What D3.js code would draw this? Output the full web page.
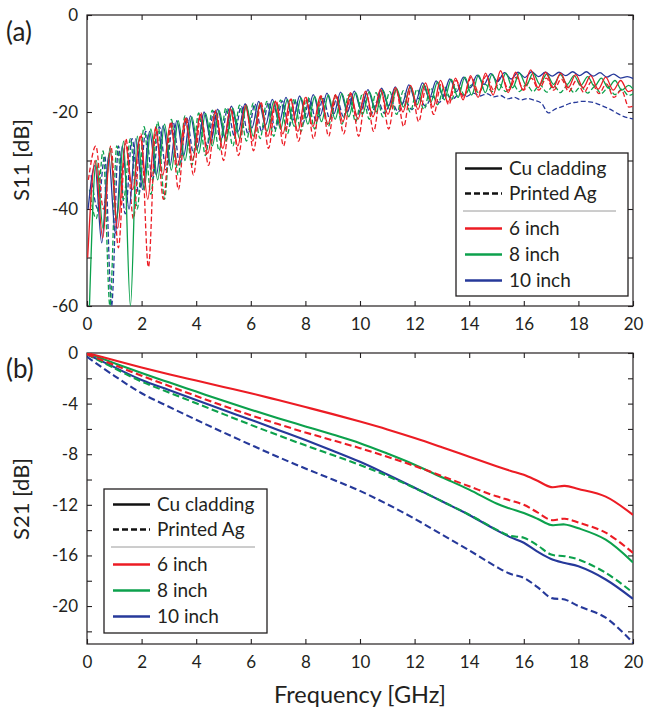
<!DOCTYPE html>
<html>
<head>
<meta charset="utf-8">
<script src="https://cdn.jsdelivr.net/npm/d3@7"></script>
<style>
  body { margin: 0; background: #fff; }
  svg text { font-family: Lato, "Open Sans", sans-serif; fill: #231f20; }
</style>
</head>
<body>
<svg id="chart" width="646" height="709"></svg>
<script>
// ---- data -------------------------------------------------------------
const lengths = ["6 inch", "8 inch", "10 inch"];
const materials = ["Cu cladding", "Printed Ag"];
const colors = ["#ec1c24", "#0ca14c", "#26399a"];

const freqTicks = [0, 2, 4, 6, 8, 10, 12, 14, 16, 18, 20];
const s11Ticks = [0, -10, -20, -30, -40, -50, -60];
const s11Labels = [0, -20, -40, -60];
const s21Ticks = [0, -2, -4, -6, -8, -10, -12, -14, -16, -18, -20, -22];
const s21Labels = [0, -4, -8, -12, -16, -20];

// S11: dB values at alternating peak / dip points, uniform frequency grid
// (start GHz, step GHz) per trace
const s11Grid6Cu = [0.025, 0.275];
const s11Grid6Ag = [0.05, 0.275];
const s11Grid8Cu = [0.09, 0.25];
const s11Grid8Ag = [0.09, 0.25];
const s11Grid10Cu = [0.04, 0.25];
const s11Grid10Ag = [0.15, 0.25];

const s11Cu6 = [-50, -30, -46, -28, -44, -26.5, -36, -25, -38, -23.5, -33, -22.5, -31, -21.5, -30, -20.5,
  -28.5, -20, -27.5, -19.3, -27, -18.7, -26, -18.2, -25, -17.8, -24.5, -17.4, -24, -17, -23, -16.7,
  -22.5, -16.4, -22, -16, -21.5, -15.7, -21, -15.3, -20.5, -15, -20, -14.5, -19.5, -14, -19, -13.5,
  -18, -13, -17.5, -12.5, -17, -12, -16.5, -11.5, -16, -11.8, -15.5, -11.3, -15, -11.8, -15, -12,
  -15, -12.3, -15, -12.5, -15.3, -12.8, -15.5, -13.5, -15.8, -15];
const s11Ag6 = [-34, -27, -40, -27, -48, -25.5, -42, -24.5, -52, -23, -38, -22, -36, -21, -33, -20.2,
  -31, -19.6, -30, -19, -29, -18.5, -28, -18, -27.5, -17.6, -27, -17.3, -26, -17, -25.5, -16.7,
  -25, -16.4, -24.5, -16.2, -25, -16, -24, -15.7, -23.5, -15.4, -23, -15, -22, -14.7, -20.5, -14.2,
  -18.5, -13.5, -17, -12.8, -16, -12.5, -15.5, -12.5, -15.5, -12.8, -15.5, -13, -15.5, -13, -15.5, -13.2,
  -15.8, -13.5, -16, -13.8, -16.2, -14.2, -17, -15.5, -19, -18.5];
const s11Cu8 = [-60, -30, -44, -27.5, -42, -26, -60, -25, -36, -23.5, -34, -22.5, -32, -21.8, -30, -21,
  -28.5, -20.3, -27, -19.7, -26, -19.2, -25.5, -18.7, -25, -18.2, -24, -17.8, -23.5, -17.4, -23, -17.1,
  -22.5, -16.8, -22, -16.5, -21.5, -16.2, -21, -16, -20.5, -15.8, -20, -15.5, -19.5, -15.2, -19, -14.8,
  -18.5, -14.3, -18, -13.8, -17.5, -13.3, -17, -12.8, -16.5, -12.4, -16, -12.2, -15.5, -12, -15, -12,
  -14.5, -12, -14.3, -12.2, -14.3, -12.3, -14.3, -12.5, -14.5, -12.7, -14.7, -13, -15, -13.5, -15.5, -14.5, -16];
const s11Ag8 = [-36, -42, -28, -60, -27, -38, -25.5, -40, -23, -37, -22, -38, -21.5, -33, -20.8, -31,
  -20.2, -29, -19.6, -28, -19.1, -27, -18.6, -26, -18.2, -25.5, -17.8, -25, -17.5, -24.5, -17.2, -24,
  -17, -23.5, -16.8, -23, -16.6, -22.5, -16.4, -22, -16.2, -21.5, -16, -21, -15.8, -20.5, -15.6, -20,
  -15.3, -19.5, -15, -18.5, -14.8, -17.5, -14.6, -16.5, -14.4, -16, -14.3, -15.8, -14.2, -15.8, -14.2, -15.8,
  -14.3, -15.8, -14.4, -15.9, -14.5, -16, -14.6, -16, -14.7, -16.1, -14.8, -16.2, -15, -16.4, -15.3, -16.6, -16];
const s11Cu10 = [-40, -31, -47, -29, -45, -27, -40, -25.5, -36, -24, -33, -22.8, -31, -21.8, -29, -20.8,
  -27.5, -20, -26, -19.4, -25, -18.8, -24, -18.3, -23.3, -17.8, -22.7, -17.4, -22.2, -17, -21.7, -16.7,
  -21.2, -16.4, -20.8, -16.1, -20.4, -15.9, -20, -15.7, -19.6, -15.4, -19.2, -15.1, -18.8, -14.8, -18.3, -14.4,
  -17.8, -14, -17.2, -13.6, -16.6, -13.2, -15.8, -12.8, -15, -12.4, -14.3, -12.1, -13.7, -11.9, -13.2, -11.8,
  -12.9, -11.7, -12.7, -11.8, -12.6, -11.8, -12.5, -11.7, -12.5, -11.7, -12.6, -11.9, -12.8, -12.2, -13, -12.7, -13.2];
const s11Ag10 = [-33, -40, -29, -60, -27, -41, -25.5, -37, -24, -34, -23, -32, -22, -31, -21.2, -28.5,
  -20.5, -27, -19.8, -26, -19.3, -25, -18.8, -24.5, -18.3, -24, -18, -23.5, -17.7, -23, -17.5, -22.5,
  -17.3, -22, -17.2, -21.5, -17.2, -21, -17.3, -20.8, -17.5, -20.5, -17.7, -20.3, -17.8, -20, -17.6, -19.5,
  -17.2, -18.8, -16.8, -18, -16.4, -17.3, -16.2, -16.8, -16.1, -16.7, -16.2, -16.9, -16.6, -17.3, -17, -17.5,
  -17.2, -17.6, -18.2, -20.2, -19.4, -18.9, -18.3, -18, -17.8, -17.9, -18.2, -18.8, -19.4, -20.2, -20.9, -21.3, -21.5];

// S21 (dB)
const s21Freq = [0, 1, 2, 3, 4, 5, 6, 7, 8, 9, 10, 11, 12, 13, 14, 15, 15.5, 16, 16.5, 17, 17.5, 18, 19, 20];
const s21Cu6 = [0, -0.58, -1.15, -1.68, -2.18, -2.68, -3.18, -3.72, -4.27, -4.83, -5.42, -6.04, -6.72, -7.45, -8.2, -8.95, -9.3, -9.62, -10.1, -10.6, -10.5, -10.75, -11.35, -12.8];
const s21Ag6 = [-0.1, -0.95, -1.8, -2.6, -3.4, -4.18, -4.92, -5.62, -6.28, -6.9, -7.52, -8.2, -8.93, -9.72, -10.54, -11.33, -11.65, -12.0, -12.6, -13.2, -13.1, -13.4, -14.2, -15.8];
const s21Cu8 = [0, -0.8, -1.58, -2.32, -3.05, -3.78, -4.48, -5.15, -5.8, -6.45, -7.13, -7.95, -8.83, -9.82, -10.8, -11.9, -12.3, -12.65, -13.1, -13.6, -13.55, -13.85, -14.75, -16.55];
const s21Ag8 = [-0.1, -1.2, -2.26, -3.12, -3.97, -4.83, -5.68, -6.5, -7.3, -8.07, -8.85, -9.72, -10.67, -11.72, -12.78, -13.96, -14.45, -14.6, -15.2, -15.93, -16.06, -16.32, -17.37, -18.95];
const s21Cu10 = [-0.1, -1.12, -2.13, -2.92, -3.71, -4.5, -5.28, -6.08, -6.88, -7.72, -8.6, -9.6, -10.65, -11.72, -12.8, -14.0, -14.55, -15.0, -15.7, -16.28, -16.6, -16.86, -17.9, -19.43];
const s21Ag10 = [-0.3, -1.8, -3.18, -4.25, -5.28, -6.28, -7.26, -8.22, -9.13, -10.0, -10.9, -11.95, -13.1, -14.35, -15.6, -16.9, -17.45, -17.77, -18.5, -19.35, -19.48, -20.0, -20.92, -22.9];

// ---- layout -----------------------------------------------------------
const svg = d3.select("#chart");
const X0 = 87, X1 = 633;
const x = d3.scaleLinear().domain([0, 20]).range([X0, X1]);
const yA = d3.scaleLinear().domain([-60, 0]).range([306, 15]);
const yB = d3.scaleLinear().domain([-23, 0]).range([644, 353]);

const ink = "#231f20";

function gridPoints(grid, vals) {
  return vals.map((v, i) => [grid[0] + grid[1] * i, v]);
}
function pairPoints(fs, vals) {
  return vals.map((v, i) => [fs[i], v]);
}

function frame(y, yTicks, yLabels, clipId) {
  const top = y.range()[1], bottom = y.range()[0];
  const fmt = (d) => String(d);

  svg.append("clipPath").attr("id", clipId)
    .append("rect").attr("x", X0).attr("y", top).attr("width", X1 - X0).attr("height", bottom - top);

  const axes = [
    svg.append("g").attr("transform", `translate(0,${bottom})`)
      .call(d3.axisBottom(x).tickValues(freqTicks).tickSize(-5).tickSizeOuter(0).tickPadding(12).tickFormat(fmt)),
    svg.append("g").attr("transform", `translate(0,${top})`)
      .call(d3.axisTop(x).tickValues(freqTicks).tickSize(-5).tickSizeOuter(0).tickFormat("")),
    svg.append("g").attr("transform", `translate(${X0},0)`)
      .call(d3.axisLeft(y).tickValues(yTicks).tickSize(-5).tickSizeOuter(0).tickPadding(9)
        .tickFormat((d) => (yLabels.includes(d) ? fmt(d) : ""))),
    svg.append("g").attr("transform", `translate(${X1},0)`)
      .call(d3.axisRight(y).tickValues(yTicks).tickSize(-5).tickSizeOuter(0).tickFormat(""))
  ];
  axes.forEach((g) => {
    g.attr("font-family", null).attr("font-size", null);
    g.select(".domain").remove();
    g.selectAll(".tick line").attr("stroke", ink).attr("stroke-width", 1.1);
    g.selectAll(".tick text").style("font-size", "17px").attr("fill", ink);
  });

  svg.append("rect")
    .attr("x", X0).attr("y", top).attr("width", X1 - X0).attr("height", bottom - top)
    .attr("fill", "none").attr("stroke", ink).attr("stroke-width", 1.2);
}

function trace(y, pts, color, dashed, width, clipId, curve) {
  const line = d3.line().x((d) => x(d[0])).y((d) => y(d[1])).curve(curve);
  svg.append("path")
    .attr("clip-path", `url(#${clipId})`)
    .attr("d", line(pts))
    .attr("fill", "none")
    .attr("stroke", color)
    .attr("stroke-width", width)
    .attr("stroke-linejoin", "round")
    .attr("stroke-dasharray", dashed ? (width > 1.5 ? "7,3.5" : "5,2.5") : null);
}

function legend(bx, by, bw, bh) {
  const g = svg.append("g").attr("transform", `translate(${bx},${by})`);
  g.append("rect").attr("width", bw).attr("height", bh)
    .attr("fill", "#fff").attr("stroke", ink).attr("stroke-width", 1.3);
  const rows = [
    { label: materials[0], color: "#111", dash: null, y: 15.5 },
    { label: materials[1], color: "#111", dash: "6,3", y: 40.5 },
    { label: lengths[0], color: colors[0], dash: null, y: 75.5 },
    { label: lengths[1], color: colors[1], dash: null, y: 101.5 },
    { label: lengths[2], color: colors[2], dash: null, y: 127.5 }
  ];
  g.append("line").attr("x1", 7).attr("x2", bw - 12).attr("y1", 58).attr("y2", 58)
    .attr("stroke", "#9a9a9a").attr("stroke-width", 1);
  rows.forEach((r) => {
    g.append("line").attr("x1", 9).attr("x2", 46).attr("y1", r.y).attr("y2", r.y)
      .attr("stroke", r.color).attr("stroke-width", 2.6).attr("stroke-dasharray", r.dash);
    g.append("text").attr("x", 53).attr("y", r.y).attr("dy", "0.36em")
      .style("font-size", "19px").text(r.label);
  });
}

// ---- panel (a) S11 ----------------------------------------------------
frame(yA, s11Ticks, s11Labels, "clipA");
const s11Traces = [
  [gridPoints(s11Grid10Ag, s11Ag10), 2, true],
  [gridPoints(s11Grid8Ag, s11Ag8), 1, true],
  [gridPoints(s11Grid6Ag, s11Ag6), 0, true],
  [gridPoints(s11Grid10Cu, s11Cu10), 2, false],
  [gridPoints(s11Grid8Cu, s11Cu8), 1, false],
  [gridPoints(s11Grid6Cu, s11Cu6), 0, false]
];
s11Traces.forEach(([pts, c, dashed]) => trace(yA, pts, colors[c], dashed, 1.3, "clipA", d3.curveMonotoneX));
legend(456, 153, 172, 143);

// ---- panel (b) S21 ----------------------------------------------------
frame(yB, s21Ticks, s21Labels, "clipB");
const s21Traces = [
  [s21Ag10, 2, true], [s21Cu10, 2, false],
  [s21Ag8, 1, true], [s21Cu8, 1, false],
  [s21Ag6, 0, true], [s21Cu6, 0, false]
];
s21Traces.forEach(([vals, c, dashed]) =>
  trace(yB, pairPoints(s21Freq, vals), colors[c], dashed, 2.1, "clipB", d3.curveCatmullRom));
legend(104, 489, 163, 144);

// ---- labels -----------------------------------------------------------
svg.append("text").attr("x", 6).attr("y", 41).style("font-size", "26px").text("(a)");
svg.append("text").attr("x", 6).attr("y", 378).style("font-size", "26px").text("(b)");

svg.append("text")
  .attr("transform", "translate(29,160) rotate(-90)")
  .attr("text-anchor", "middle").style("font-size", "22px").text("S11 [dB]");
svg.append("text")
  .attr("transform", "translate(29,499) rotate(-90)")
  .attr("text-anchor", "middle").style("font-size", "22px").text("S21 [dB]");
svg.append("text")
  .attr("x", (X0 + X1) / 2).attr("y", 703)
  .attr("text-anchor", "middle").style("font-size", "23.5px").text("Frequency [GHz]");
</script>
</body>
</html>
